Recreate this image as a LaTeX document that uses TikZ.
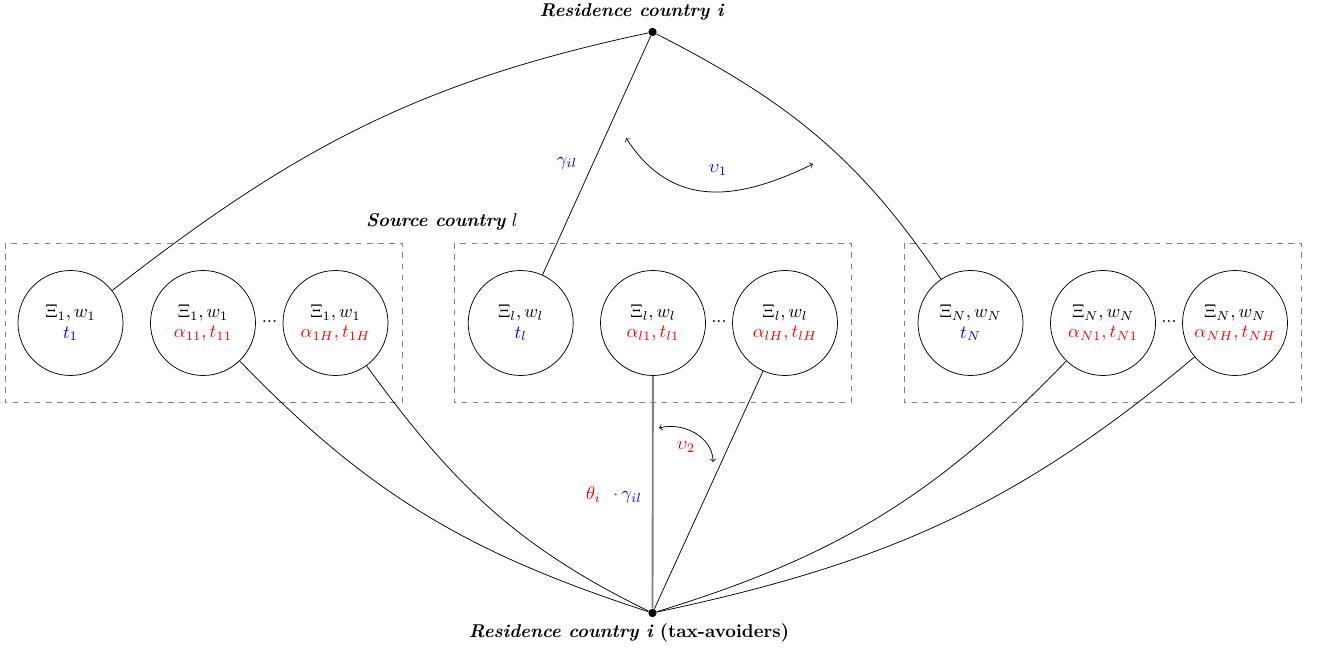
\documentclass[tikz,border=0pt]{standalone}
\usepackage{amsmath}
\begin{document}
\begin{tikzpicture}[x=0.54pt,y=-0.54pt,
  agent/.style={circle,draw,minimum size=56.7pt,inner sep=0pt,align=center},
  groupbox/.style={draw=gray,dashed},
  hub/.style={circle,fill=black,inner sep=0pt,minimum size=4.5pt},
  conn/.style={black},
  lab/.style={inner sep=1pt}]
\useasboundingbox (0,0) rectangle (1323,650);
% boxes
\draw[groupbox] (5,243) rectangle (402,402);
\draw[groupbox] (454,243) rectangle (851,402);
\draw[groupbox] (904,243) rectangle (1301,402);
% hubs
\node[hub] (top) at (652.5,32) {};
\node[hub] (bot) at (652.5,613) {};
\node[lab] (toplab) at (632,12) {\textbf{\textit{Residence country i}}};
\node[lab] (botlab) at (629,633) {\textbf{\textit{Residence country i}} \textbf{(tax-avoiders)}};
\node[lab] (srclab) at (442,222) {\textbf{\textit{Source country}} $l$};
% group 1
\node[agent] (c11) at (70.5,323) {$\Xi_1,w_1$\\[-1pt]\textcolor{blue}{$t_1$}};
\node[agent] (c12) at (203,323) {$\Xi_1,w_1$\\[-1pt]\textcolor{red}{$\alpha_{11},t_{11}$}};
\node[agent] (c13) at (335.5,323) {$\Xi_1,w_1$\\[-1pt]\textcolor{red}{$\alpha_{1H},t_{1H}$}};
\node (d1) at (269.5,322) {...};
% group 2
\node[agent] (c21) at (520.7,323) {$\Xi_l,w_l$\\[-1pt]\textcolor{blue}{$t_l$}};
\node[agent] (c22) at (653,323) {$\Xi_l,w_l$\\[-1pt]\textcolor{red}{$\alpha_{l1},t_{l1}$}};
\node[agent] (c23) at (785,323) {$\Xi_l,w_l$\\[-1pt]\textcolor{red}{$\alpha_{lH},t_{lH}$}};
\node (d2) at (719,322) {...};
% group 3
\node[agent] (c31) at (970.5,323) {$\Xi_N,w_N$\\[-1pt]\textcolor{blue}{$t_N$}};
\node[agent] (c32) at (1103,323) {$\Xi_N,w_N$\\[-1pt]\textcolor{red}{$\alpha_{N1},t_{N1}$}};
\node[agent] (c33) at (1235,323) {$\Xi_N,w_N$\\[-1pt]\textcolor{red}{$\alpha_{NH},t_{NH}$}};
\node (d3) at (1169,322) {...};
% top connectors
\draw[conn] (c11) to[out=38,in=192] (top);
\draw[conn] (top) -- (c21);
\draw[conn] (c31) to[out=124,in=-27] (top);
% bottom connectors
\draw[conn] (c12) to[out=-46,in=162] (bot);
\draw[conn] (c13) to[out=-54,in=154] (bot);
\draw[gray,line width=1pt] (c22) -- (bot);
\draw[conn] (c23) -- (bot);
\draw[conn] (c32) to[out=226,in=17] (bot);
\draw[conn] (c33) to[out=220,in=12] (bot);
% labels
\node[lab] (gam) at (567,163) {\textcolor{blue}{$\gamma_{il}$}};
\node[lab] (ups1) at (718,170) {\textcolor{blue}{$\upsilon_1$}};
\node[lab] (ups2) at (686,447) {\textcolor{red}{$\upsilon_2$}};
\node[lab] (thg) at (614,495) {\textcolor{red}{$\theta_i\ \ \cdot$}\,\textcolor{blue}{$\gamma_{il}$}};
% curved arrows
\coordinate (u1a) at (626,138);
\coordinate (u1b) at (813,164);
\draw[<->] (u1a) to[out=-57,in=206,looseness=1.15] (u1b);
\coordinate (u2a) at (659,428);
\coordinate (u2b) at (713,462);
\draw[<->] (u2a) to[out=15,in=90] (u2b);
\end{tikzpicture}
\end{document}
